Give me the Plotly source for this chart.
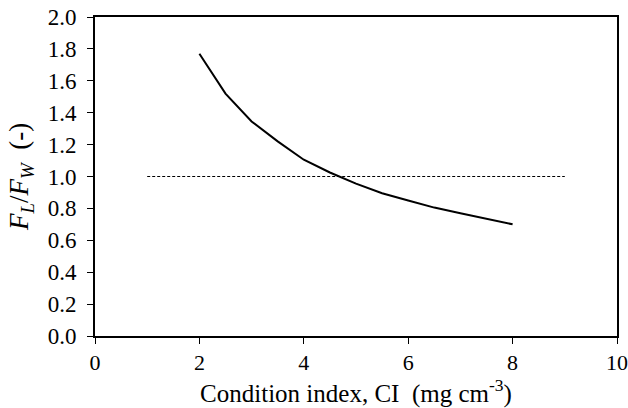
import plotly.graph_objects as go

ci = [2.0, 2.5, 3.0, 3.5, 4.0, 4.5, 5.0, 5.5, 6.0, 6.5, 7.0, 7.5, 8.0]
ratio = [1.77, 1.52, 1.345, 1.22, 1.105, 1.025, 0.955, 0.895, 0.85, 0.805, 0.77, 0.735, 0.70]
ref_x = [1.0, 9.0]
ref_y = [1.0, 1.0]
x_ticks = [0, 2, 4, 6, 8, 10]
y_ticks = [0.0, 0.2, 0.4, 0.6, 0.8, 1.0, 1.2, 1.4, 1.6, 1.8, 2.0]

FONT = "Liberation Serif, Times New Roman, Times, serif"

fig = go.Figure()
fig.add_trace(go.Scatter(x=ref_x, y=ref_y, mode="lines",
                         line=dict(color="black", width=1, dash="3px,2px"),
                         showlegend=False, hoverinfo="skip"))
fig.add_trace(go.Scatter(x=ci, y=ratio, mode="lines",
                         line=dict(color="black", width=2),
                         showlegend=False))

fig.update_layout(
    width=628, height=408,
    margin=dict(l=95, r=11, t=17, b=72, autoexpand=False),
    showlegend=False,
    paper_bgcolor="white", plot_bgcolor="white",
    font=dict(family=FONT, size=22, color="black"),
    xaxis=dict(range=[0, 10], tickvals=x_ticks, ticktext=[str(v) for v in x_ticks],
               ticks="outside", ticklen=6, tickwidth=1, tickcolor="black",
               showline=True, linecolor="black", linewidth=2, mirror=True,
               showgrid=False, zeroline=False, automargin=False,
               tickfont=dict(family=FONT, size=22, color="black"),
               title=dict(text="Condition index, CI  (mg cm<sup>-3</sup>)",
                          font=dict(family=FONT, size=25, color="black"), standoff=7)),
    yaxis=dict(range=[0, 2.0], tickvals=y_ticks, ticktext=[f"{v:.1f}" for v in y_ticks],
               ticks="outside", ticklen=6, tickwidth=1, tickcolor="black",
               ticklabelstandoff=6,
               showline=True, linecolor="black", linewidth=2, mirror=True,
               showgrid=False, zeroline=False, automargin=False,
               tickfont=dict(family=FONT, size=23, color="black"),
               title=dict(text="<i>F<sub>L</sub></i>/<i>F<sub>W</sub></i>  (-)",
                          font=dict(family=FONT, size=27, color="black"), standoff=11)),
)

fig.write_html("out.html")
